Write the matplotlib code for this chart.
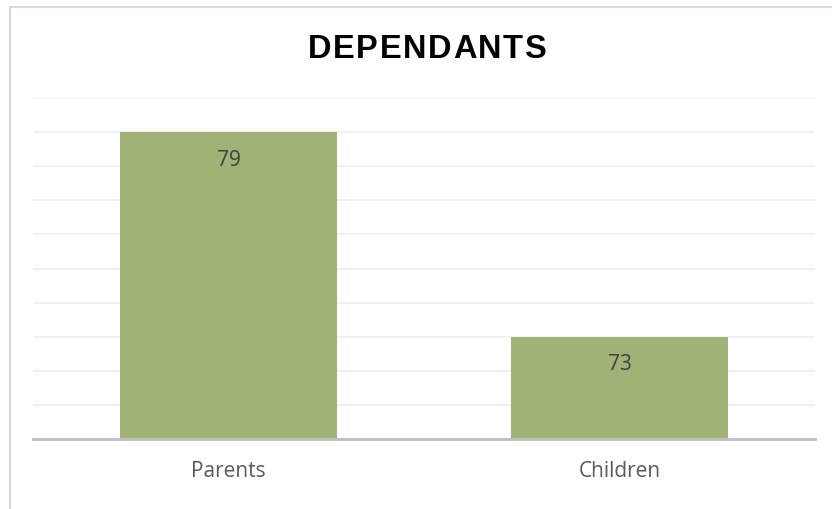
import matplotlib
matplotlib.use("Agg")
import matplotlib.pyplot as plt
from matplotlib.patches import Rectangle

# data
categories = ["Parents", "Children"]
values = [79, 73]
y_min, y_max = 70, 80
title = "DEPENDANTS"

bar_color = "#A0B275"
grid_color = "#EDEDED"
axis_color = "#BFBFBF"

fig = plt.figure(figsize=(8.32, 5.09), dpi=100)
W, H = 832, 509

# light chart border
fig.patches.append(Rectangle((10 / W, -0.1), 1.2, 1.1 - 7 / H, transform=fig.transFigure,
                             fill=False, edgecolor="#D9D9D9", linewidth=1.5))

ax = fig.add_axes([33 / W, (H - 439) / H, (815 - 33) / W, (439 - 98) / H])

x = range(len(categories))
bars = ax.bar(x, values, width=0.555, color=bar_color, zorder=3)
ax.set_ylim(y_min, y_max)
ax.set_xlim(-0.5, len(categories) - 0.5)

ax.set_yticks(range(y_min, y_max + 1))
ax.yaxis.grid(True, color=grid_color, linewidth=1.2, zorder=0)
ax.tick_params(axis="y", left=False, labelleft=False)
ax.tick_params(axis="x", bottom=False, pad=12)
ax.set_xticks(list(x))
ax.set_xticklabels(categories, fontsize=15, color="#595959", family="Open Sans")

for s in ["top", "right", "left"]:
    ax.spines[s].set_visible(False)
ax.spines["bottom"].set_color(axis_color)
ax.spines["bottom"].set_linewidth(2)
ax.spines["bottom"].set_zorder(4)

for b, v in zip(bars, values):
    ax.text(b.get_x() + b.get_width() / 2, v - 0.82, str(v), ha="center", va="center",
            fontsize=15, color="#404040", family="Open Sans", zorder=5)

# title with a little letter spacing: place each character separately
renderer = fig.canvas.get_renderer()
title_kw = dict(fontsize=23.5, family="Liberation Sans", fontweight="bold", color="black", va="center")
widths = []
for ch in title:
    t = fig.text(0, 0, ch, **title_kw)
    widths.append(t.get_window_extent(renderer).width)
    t.remove()
tracking = 1.5
total = sum(widths) + tracking * (len(title) - 1)
xpos = 427 - total / 2
for ch, w in zip(title, widths):
    fig.text(xpos / W, 1 - 50 / H, ch, ha="left", **title_kw)
    xpos += w + tracking

fig.savefig("out.png", dpi=100)
